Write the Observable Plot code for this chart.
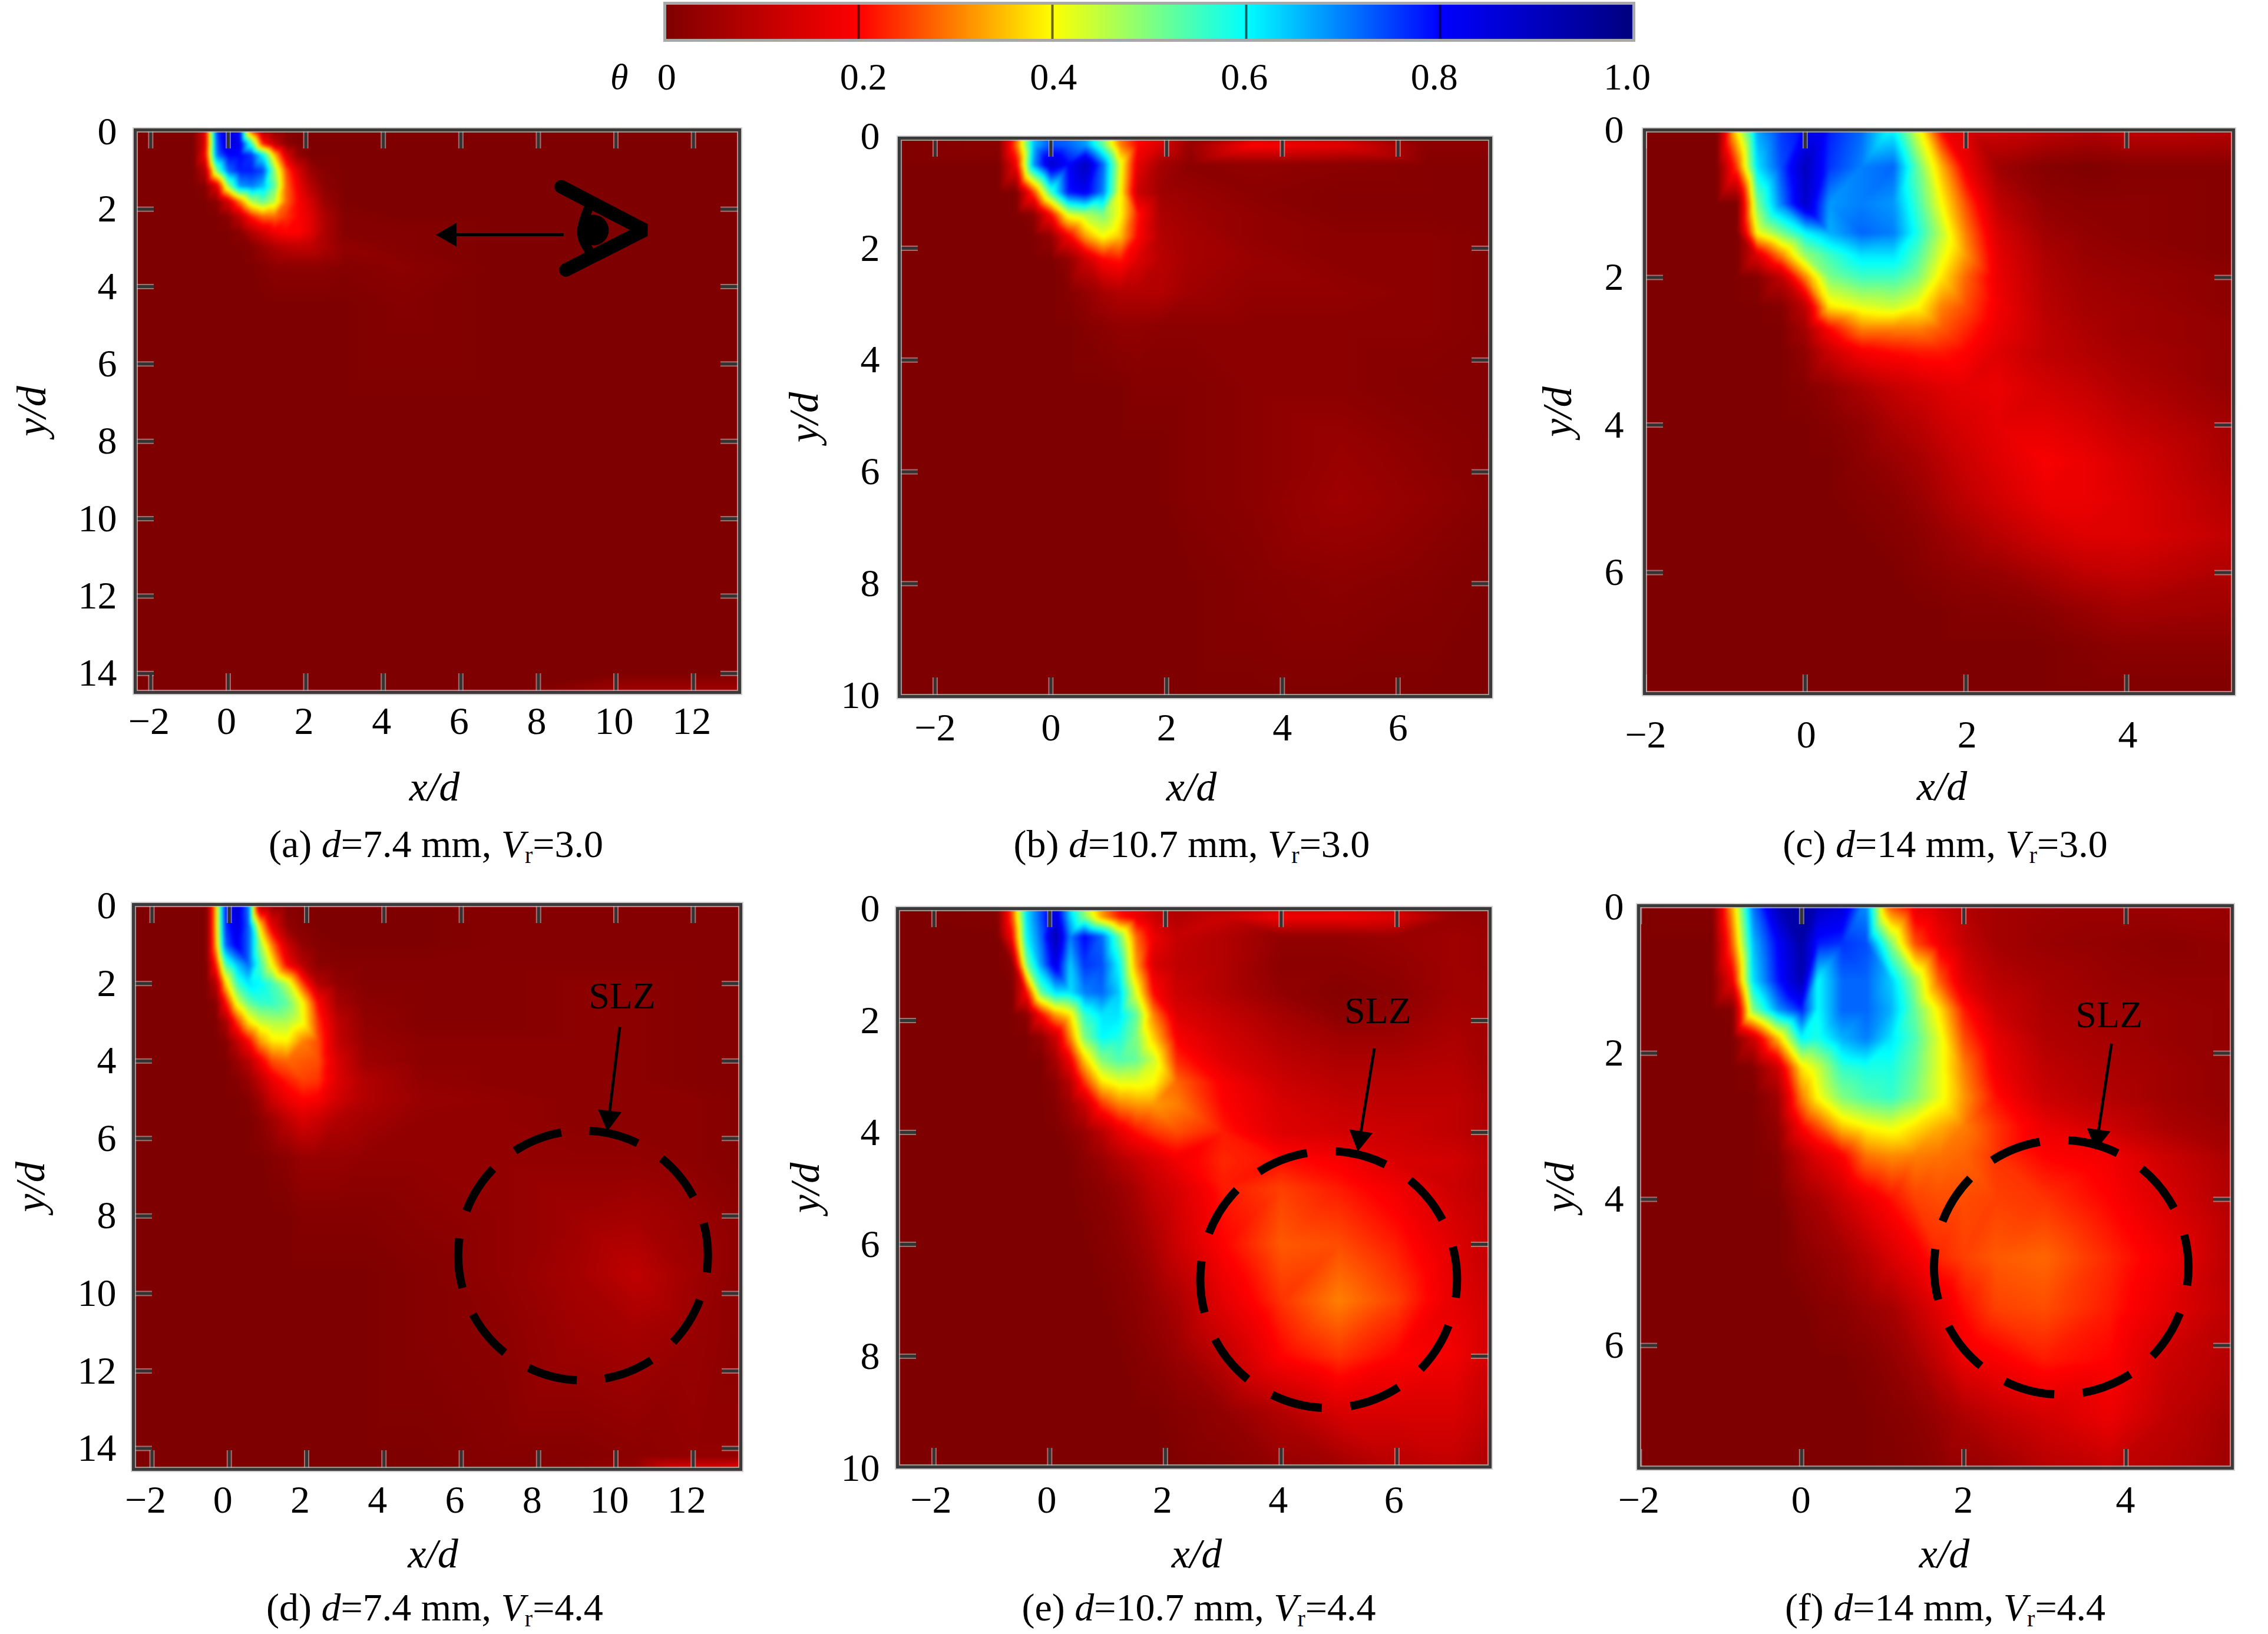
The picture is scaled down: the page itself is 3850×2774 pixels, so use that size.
<!DOCTYPE html>
<html><head><meta charset="utf-8">
<script src="https://cdn.jsdelivr.net/npm/d3@7"></script>
<script src="https://cdn.jsdelivr.net/npm/@observablehq/plot@0.6"></script>
<style>
html,body{margin:0;background:#fff}
#root{position:relative;width:3850px;height:2774px;overflow:hidden;font-family:"Liberation Serif",serif;color:#000}
.cap{position:absolute;transform:translate(-50%,-50%);white-space:nowrap;font-size:66px;line-height:1}
.cap sub{font-size:40px;line-height:0;vertical-align:-10px}
</style></head><body><div id="root"></div>
<script>
// theta in percent: each row is one y/d, each column one x/d
const xsA=[-2.5,-.9,-.6,-.3,0,.3,.6,.9,1.2,1.5,1.8,2.1,2.5,3,4.5,7,10,13.3];
const ysA=[-.1,.3,.6,1,1.4,1.8,2.2,2.6,3,3.5,4.5,7,14,14.5];
const thetaA=[
[0,0,15,75,90,78,20,2,0,0,0,0,0,0,0,0,0,0],
[0,0,15,72,88,82,55,22,10,2,0,0,0,0,0,0,0,0],
[0,0,18,70,80,80,76,60,35,14,3,0,0,0,0,0,0,0],
[0,0,8,50,72,78,78,74,48,26,14,5,1,0,0,0,0,0],
[0,0,1,15,48,68,70,65,52,28,18,9,2,0,0,0,0,0],
[0,0,0,2,14,30,46,52,45,28,20,14,4,0,0,0,0,0],
[0,0,0,0,2,10,22,28,28,24,20,16,7,1,0,0,0,0],
[0,0,0,0,0,2,8,13,18,20,20,16,7,1,1,0,0,0],
[0,0,0,0,0,0,1,4,7,9,10,10,7,3,1,0,0,0],
[0,0,0,0,0,0,0,1,2,2,2,2,2,1,2,0,0,0],
[0,0,0,0,0,0,0,0,0,0,0,0,0,0,1,0,0,0],
[0,0,0,0,0,0,0,0,0,0,0,0,0,0,0,0,0,0],
[0,0,0,0,0,0,0,0,0,0,0,0,0,0,0,0,0,0],
[0,0,0,0,0,0,0,0,0,0,0,0,0,0,0,0,6,6]];

const xsB=[-2.7,-.9,-.6,-.3,0,.3,.6,.9,1.2,1.5,1.9,2.4,3.5,5,6.5,7.7];
const ysB=[-.1,.15,.5,1,1.4,1.8,2.2,2.8,3.4,4.5,5.5,6.5,8,10.1];
const thetaB=[
[0,2,25,65,74,72,66,50,28,20,18,4,6,6,2,2],
[0,2,28,65,74,72,68,52,30,20,14,4,20,16,2,2],
[0,0,18,68,88,80,90,72,42,16,6,2,3,2,1,1],
[0,0,0,25,55,78,82,70,40,12,5,4,2,1,1,1],
[0,0,0,2,20,42,46,50,40,22,7,5,3,1,1,1],
[0,0,0,0,3,18,32,40,35,20,8,6,3,2,2,1],
[0,0,0,0,0,3,12,20,22,15,9,6,4,2,2,1],
[0,0,0,0,0,1,3,6,8,8,8,5,3,3,2,1],
[0,0,0,0,0,0,1,2,3,3,2,2,2,2,2,1],
[0,0,0,0,0,0,0,0,0,1,1,1,2,2,1,1],
[0,0,0,0,0,0,0,0,0,0,0,1,2,4,2,1],
[0,0,0,0,0,0,0,0,0,0,0,1,2,5,3,1],
[0,0,0,0,0,0,0,0,0,0,0,0,1,2,1,0],
[0,0,0,0,0,0,0,0,0,0,0,0,0,0,0,0]];

const xsC=[-2.1,-1.1,-.85,-.6,-.3,0,.3,.7,1.1,1.4,1.7,2,2.4,3,3.5,4,5.4];
const ysC=[-.1,.5,1,1.4,1.7,2,2.4,2.7,3,3.5,4,4.5,5,5.5,6,6.5,7,7.7];
const thetaC=[
[0,0,42,68,76,80,78,72,58,40,17,14,14,12,10,12,10],
[0,0,25,62,74,90,76,70,72,52,34,18,5,1,0,1,1],
[0,0,0,50,70,88,68,70,68,55,40,26,10,3,2,2,1],
[0,0,0,40,50,60,66,72,70,58,45,30,14,5,3,2,1],
[0,0,0,15,30,48,55,62,62,54,42,32,16,7,4,3,1],
[0,0,0,1,10,30,50,55,55,50,38,28,17,8,5,4,2],
[0,0,0,0,1,10,38,42,44,40,30,26,18,9,6,5,2],
[0,0,0,0,0,6,20,30,30,30,27,23,17,10,7,5,3],
[0,0,0,0,0,3,12,19,21,22,22,20,15,10,8,6,3],
[0,0,0,0,0,1,3,7,11,13,15,16,17,13,11,8,3],
[0,0,0,0,0,0,1,3,7,9,12,14,16,16,14,11,5],
[0,0,0,0,0,0,0,2,4,6,9,12,15,19,17,14,6],
[0,0,0,0,0,0,0,1,2,4,7,10,13,17,17,15,8],
[0,0,0,0,0,0,0,0,1,2,4,6,9,13,15,15,10],
[0,0,0,0,0,0,0,0,0,1,2,3,4,7,10,11,7],
[0,0,0,0,0,0,0,0,0,0,0,1,1,2,4,6,5],
[0,0,0,0,0,0,0,0,0,0,0,0,0,0,1,2,2],
[0,0,0,0,0,0,0,0,0,0,0,0,0,0,0,0,0]];

const xsD=[-2.5,-.6,-.35,-.1,.2,.5,.8,1.1,1.5,1.9,2.3,2.8,3.5,5,7,9,10.5,12,13.3];
const ysD=[-.1,.5,1,1.5,2,2.5,3,3.5,4,4.5,5,5.5,6.5,8,9.5,11,14.2,14.6];
const thetaD=[
[0,0,35,78,88,70,3,0,0,0,0,0,0,0,1,1,1,1,1],
[0,0,35,76,85,72,36,16,3,1,0,0,0,0,1,1,1,1,1],
[0,0,33,72,82,72,48,30,12,3,1,0,0,0,1,1,1,1,1],
[0,0,22,54,65,72,55,40,19,8,2,1,1,1,1,1,1,1,1],
[0,0,8,36,55,62,60,55,45,25,8,3,1,1,1,2,2,1,1],
[0,0,1,20,42,52,56,56,52,40,20,6,2,1,1,2,2,1,1],
[0,0,0,6,24,38,44,46,46,41,24,10,3,1,1,2,2,1,1],
[0,0,0,1,10,20,32,38,39,30,26,11,4,2,2,2,2,1,1],
[0,0,0,0,4,9,18,26,28,27,26,14,5,2,2,2,2,1,1],
[0,0,0,0,1,4,10,17,22,25,24,15,8,3,2,2,2,1,1],
[0,0,0,0,0,1,5,12,17,20,19,13,8,4,3,2,2,2,1],
[0,0,0,0,0,0,2,5,10,14,12,8,6,3,3,2,2,2,1],
[0,0,0,0,0,0,0,1,2,4,4,4,3,3,3,3,3,2,1],
[0,0,0,0,0,0,0,0,0,1,1,1,1,2,3,5,6,4,2],
[0,0,0,0,0,0,0,0,0,0,0,0,0,1,3,6,10,5,2],
[0,0,0,0,0,0,0,0,0,0,0,0,0,1,2,5,6,4,2],
[0,0,0,0,0,0,0,0,0,0,0,0,0,0,1,1,2,3,3],
[0,0,0,0,0,0,0,0,0,0,0,0,0,0,1,2,4,18,22]];

const xsE=[-2.7,-.9,-.65,-.4,-.15,.1,.35,.6,.9,1.2,1.5,1.8,2.2,3,4,5,6,7,7.7];
const ysE=[-.1,.15,.5,1,1.5,1.9,2.3,2.7,3.1,3.5,4,4.5,5,6,7,8,9,10.1];
const thetaE=[
[0,1,28,62,74,84,62,46,30,20,16,12,7,6,10,12,8,4,3],
[0,1,26,62,74,86,64,50,33,22,17,12,8,12,18,18,15,4,3],
[0,0,20,60,72,92,70,80,72,52,28,17,11,8,3,3,4,5,4],
[0,0,2,50,68,84,64,76,74,60,32,14,10,8,2,2,3,5,4],
[0,0,0,20,52,62,62,70,72,64,42,20,12,8,3,1,2,5,5],
[0,0,0,2,20,32,38,56,62,62,52,30,15,11,6,2,3,6,5],
[0,0,0,0,3,12,30,50,60,58,50,36,19,13,8,5,5,7,5],
[0,0,0,0,0,6,18,36,50,54,52,44,23,15,10,7,7,8,5],
[0,0,0,0,0,2,9,24,38,42,42,40,28,19,12,9,9,9,6],
[0,0,0,0,0,1,5,11,24,30,32,32,30,20,14,11,10,10,7],
[0,0,0,0,0,0,2,4,9,16,21,24,26,22,15,13,12,10,7],
[0,0,0,0,0,0,0,2,4,8,11,14,18,23,21,19,14,13,9],
[0,0,0,0,0,0,0,1,2,4,7,11,14,22,25,22,18,12,9],
[0,0,0,0,0,0,0,0,1,2,4,7,12,20,27,26,22,15,10],
[0,0,0,0,0,0,0,0,0,1,2,4,7,16,24,30,25,16,12],
[0,0,0,0,0,0,0,0,0,0,1,2,4,10,20,24,20,18,12],
[0,0,0,0,0,0,0,0,0,0,0,0,1,3,8,14,14,14,10],
[0,0,0,0,0,0,0,0,0,0,0,0,0,1,3,4,8,10,6]];

const xsF=[-2.1,-1.1,-.85,-.6,-.3,0,.2,.5,.8,1.1,1.4,1.7,2,2.4,3,3.8,4.5,5.4];
const ysF=[-.1,.5,1,1.4,1.8,2.2,2.6,3,3.4,4,4.8,5.5,6.2,7,7.8];
const thetaF=[
[0,1,35,72,92,94,92,88,68,22,14,12,8,6,5,5,5,4],
[0,0,28,65,80,94,78,76,74,50,26,18,11,6,4,3,2,3],
[0,0,18,62,78,92,60,72,72,64,48,27,15,9,6,4,3,3],
[0,0,1,50,68,78,60,72,72,66,52,38,22,12,7,5,4,3],
[0,0,0,12,34,60,58,66,70,62,54,42,26,16,8,6,4,3],
[0,0,0,1,12,38,44,56,58,58,52,42,30,18,10,7,5,3],
[0,0,0,0,5,30,40,50,54,56,50,42,32,21,12,8,5,3],
[0,0,0,0,3,20,26,36,40,42,38,34,30,24,17,12,7,4],
[0,0,0,0,1,10,15,20,29,31,30,29,28,24,20,18,12,6],
[0,0,0,0,0,5,7,12,17,21,25,26,26,25,24,20,14,7],
[0,0,0,0,0,2,3,5,9,14,18,23,25,27,28,23,18,8],
[0,0,0,0,0,0,1,2,4,6,11,16,21,25,26,22,16,9],
[0,0,0,0,0,0,0,0,1,3,6,11,17,19,22,20,12,8],
[0,0,0,0,0,0,0,0,0,1,2,4,7,10,13,17,10,5],
[0,0,0,0,0,0,0,0,0,0,1,2,3,4,8,10,8,4]];

const barTicks=[0,20,40,60,80,100];
const barLabels=["0","0.2","0.4","0.6","0.8","1.0"];
const barLabelAt=[.2,20.5,40.1,59.8,79.4,99.3];
const jet=["#7f0000","#ff0000","#ffff00","#00ffff","#0000ff","#00007f"];
const ticks7=[-2,0,2,4,6,8,10,12], ticks7y=[0,2,4,6,8,10,12,14];
const ticks10=[-2,0,2,4,6], ticks10y=[0,2,4,6,8,10];
const ticks14=[-2,0,2,4], ticks14y=[0,2,4,6];
const eyeV=[[8.59,1.42],[10.74,2.54],[8.71,3.57]];
const eyeLid=[[9.28,2.0],[9.12,2.6],[9.3,3.06]];
const eyePupil=[[9.42,2.54]];
const sightLine=[{x1:8.65,y1:2.66,x2:5.6,y2:2.66}], sightHead=[{x:5.71,y:2.66,rotate:270}];

const color={type:"linear",domain:barTicks,range:jet,clamp:true};
const font='"Liberation Serif",serif';
const M={l:200,r:14,t:14,b:220};
const minus=d=>d<0?"\u2212"+(-d):String(d);

const panels=[
 {xs:xsA,ys:ysA,t:thetaA,L:229,R:1255,T:220,B:1175,xd:[-2.4,13.19],yd:[-.05,14.49],xt:ticks7,yt:ticks7y,xPad:56,yPad:31,xLab:161,xLabDx:-5,yLab:175,dx:-3,cap:["(a) ","7.4 mm","3.0",740,1433]},
 {xs:xsB,ys:ysB,t:thetaB,L:1526,R:2530,T:234,B:1182,xd:[-2.62,7.6],yd:[.03,10.02],xt:ticks10,yt:ticks10y,xPad:60,yPad:33,xLab:154,xLabDx:-6,yLab:161,dx:0,cap:["(b) ","10.7 mm","3.0",2023,1433]},
 {xs:xsC,ys:ysC,t:thetaC,L:2791,R:3791,T:220,B:1177,xd:[-2,5.33],yd:[0,7.64],xt:ticks14,yt:ticks14y,xPad:77,yPad:35,xLab:158,xLabDx:5,yLab:147,dx:2,cap:["(c) ","14 mm","3.0",3302,1433]},
 {xs:xsD,ys:ysD,t:thetaD,L:226,R:1257,T:1535,B:2494,xd:[-2.48,13.23],yd:[-.04,14.54],xt:ticks7,yt:ticks7y,xPad:59,yPad:29,xLab:144,xLabDx:-7,yLab:174,dx:-11,cap:["(d) ","7.4 mm","4.4",738,2729],
  circle:{x:9.15,y:9.02,r:212,dash:"85,48.2",off:56},slz:{x:10.16,y:2.33},arrow:{x1:10.1,y1:3.12,x2:9.82,y2:5.46},head:{x:9.82,y:5.46,rotate:186.6}},
 {xs:xsE,ys:ysE,t:thetaE,L:1523,R:2529,T:1542,B:2490,xd:[-2.63,7.61],yd:[0,9.98],xt:ticks10,yt:ticks10y,xPad:63,yPad:30,xLab:148,xLabDx:5,yLab:156,dx:-5,cap:["(e) ","10.7 mm","4.4",2035,2729],
  circle:{x:4.82,y:6.63,r:218,dash:"88,49",off:57},slz:{x:5.67,y:1.83},arrow:{x1:5.61,y1:2.5,x2:5.36,y2:4.1},head:{x:5.36,y:4.1,rotate:189}},
 {xs:xsF,ys:ysF,t:thetaF,L:2781,R:3789,T:1537,B:2492,xd:[-2.01,5.31],yd:[-.02,7.68],xt:ticks14,yt:ticks14y,xPad:61,yPad:25,xLab:146,xLabDx:15,yLab:133,dx:-1,cap:["(f) ","14 mm","4.4",3302,2729],
  circle:{x:3.2,y:4.93,r:216,dash:"87,48.7",off:56},slz:{x:3.79,y:1.48},arrow:{x1:3.82,y1:1.87,x2:3.65,y2:3.14},head:{x:3.65,y:3.14,rotate:188}}
];

const root=document.getElementById("root");
function place(el,left,top){el.style.position="absolute";el.style.left=left+"px";el.style.top=top+"px";el.style.maxWidth="none";root.appendChild(el);}

panels.forEach((p,i)=>{
  const pts=[];
  p.t.forEach((row,j)=>row.forEach((v,k)=>pts.push({x:p.xs[k],y:p.ys[j],v})));
  const W=p.R-p.L,H=p.B-p.T;
  const tickLen=32;
  const marks=[
    Plot.raster(pts,{x:"x",y:"y",fill:"v",interpolate:"barycentric",pixelSize:2}),
    ...[["#c8c8c8",9,.55],["#333",5,1]].flatMap(([stroke,strokeWidth,strokeOpacity])=>[
      Plot.tickX(p.xt,{x:d=>d,insetTop:H-tickLen,stroke,strokeWidth,strokeOpacity}),
      Plot.tickX(p.xt,{x:d=>d,insetBottom:H-tickLen,stroke,strokeWidth,strokeOpacity}),
      Plot.tickY(p.yt.filter(d=>d>0&&d<p.yd[1]-.1),{y:d=>d,insetRight:W-tickLen,stroke,strokeWidth,strokeOpacity}),
      Plot.tickY(p.yt.filter(d=>d>0&&d<p.yd[1]-.1),{y:d=>d,insetLeft:W-tickLen,stroke,strokeWidth,strokeOpacity})
    ]),
    Plot.frame({stroke:"#bdbdbd",strokeWidth:9,strokeOpacity:.7}),
    Plot.frame({stroke:"#3a3a3a",strokeWidth:5}),
    Plot.axisX({ticks:p.xt,tickFormat:minus,tickSize:0,tickPadding:p.xPad-32,fontSize:66,label:null,anchor:"bottom",dx:p.dx}),
    Plot.axisY({ticks:p.yt,tickFormat:minus,tickSize:0,tickPadding:p.yPad,fontSize:66,label:null,anchor:"left"}),
    Plot.text(["x/d"],{frameAnchor:"bottom",dx:p.xLabDx,dy:p.xLab,lineAnchor:"middle",textAnchor:"middle",fontSize:70,fontStyle:"italic",fill:"#000"}),
    Plot.text(["y/d"],{frameAnchor:"left",dx:-p.yLab,rotate:-90,lineAnchor:"middle",textAnchor:"middle",fontSize:70,fontStyle:"italic",fill:"#000"})
  ];
  if(p.circle) marks.push(
    Plot.dot([p.circle],{x:"x",y:"y",r:p.circle.r,stroke:"#000",fill:"none",strokeWidth:14,strokeDasharray:p.circle.dash,strokeDashoffset:p.circle.off}),
    Plot.link([p.arrow],{x1:"x1",y1:"y1",x2:"x2",y2:"y2",stroke:"#000",strokeWidth:5}),
    Plot.dot([p.head],{x:"x",y:"y",symbol:"triangle",r:15,fill:"#000",stroke:"none",rotate:"rotate"}),
    Plot.text([p.slz],{x:"x",y:"y",text:()=>"SLZ",fontSize:64,fill:"#000"})
  );
  if(i===0) marks.push(
    Plot.line(eyeV,{x:d=>d[0],y:d=>d[1],stroke:"#000",strokeWidth:23,strokeLinejoin:"miter"}),
    Plot.line(eyeLid,{x:d=>d[0],y:d=>d[1],stroke:"#000",strokeWidth:16,curve:"natural"}),
    Plot.dot(eyePupil,{x:d=>d[0],y:d=>d[1],r:26,fill:"#000",stroke:"none"}),
    Plot.link(sightLine,{x1:"x1",y1:"y1",x2:"x2",y2:"y2",stroke:"#000",strokeWidth:5}),
    Plot.dot(sightHead,{x:"x",y:"y",symbol:"triangle",r:15,fill:"#000",stroke:"none",rotate:"rotate"})
  );
  const el=Plot.plot({
    width:W+M.l+M.r,height:H+M.t+M.b,marginLeft:M.l,marginRight:M.r,marginTop:M.t,marginBottom:M.b,
    x:{domain:p.xd,axis:null},y:{domain:p.yd,reverse:true,axis:null},color,
    style:{fontFamily:font,background:"transparent",color:"#000",overflow:"visible"},
    marks
  });
  const img=el.querySelector("image"); if(img) img.style.filter="blur(2.5px)";
  place(el,p.L-M.l,p.T-M.t);
  const c=document.createElement("div");c.className="cap";
  c.style.left=p.cap[3]+"px";c.style.top=p.cap[4]+"px";
  c.innerHTML=p.cap[0]+"<i>d</i>="+p.cap[1]+", <i>V</i><sub>r</sub>="+p.cap[2];
  root.appendChild(c);
});

// colour bar
(function(){
  const L=1128,R=2773,T=5,B=68,m={l:100,r:60,t:5,b:110};
  const el=Plot.plot({
    width:R-L+m.l+m.r,height:B-T+m.t+m.b,marginLeft:m.l,marginRight:m.r,marginTop:m.t,marginBottom:m.b,
    x:{domain:[0,100],axis:null},y:{domain:[0,1],axis:null},color,
    style:{fontFamily:font,background:"transparent",color:"#000",overflow:"visible"},
    marks:[
      Plot.raster({fill:(x)=>x,x1:0,x2:100,y1:0,y2:1,pixelSize:2}),
      Plot.ruleX(barTicks.slice(1,-1),{stroke:"#000",strokeOpacity:.6,strokeWidth:4}),
      Plot.frame({stroke:"#a8a8a8",strokeWidth:5}),
      Plot.text(barLabels,{x:(d,i)=>barLabelAt[i],frameAnchor:"bottom",dy:63,lineAnchor:"middle",textAnchor:"middle",fontSize:64,fill:"#000"}),
      Plot.text(["\u03b8"],{x:-4.7,frameAnchor:"bottom",dy:63,lineAnchor:"middle",textAnchor:"middle",fontSize:62,fontStyle:"italic",fill:"#000"})
    ]
  });
  place(el,L-m.l,T-m.t);
})();
</script></body></html>
